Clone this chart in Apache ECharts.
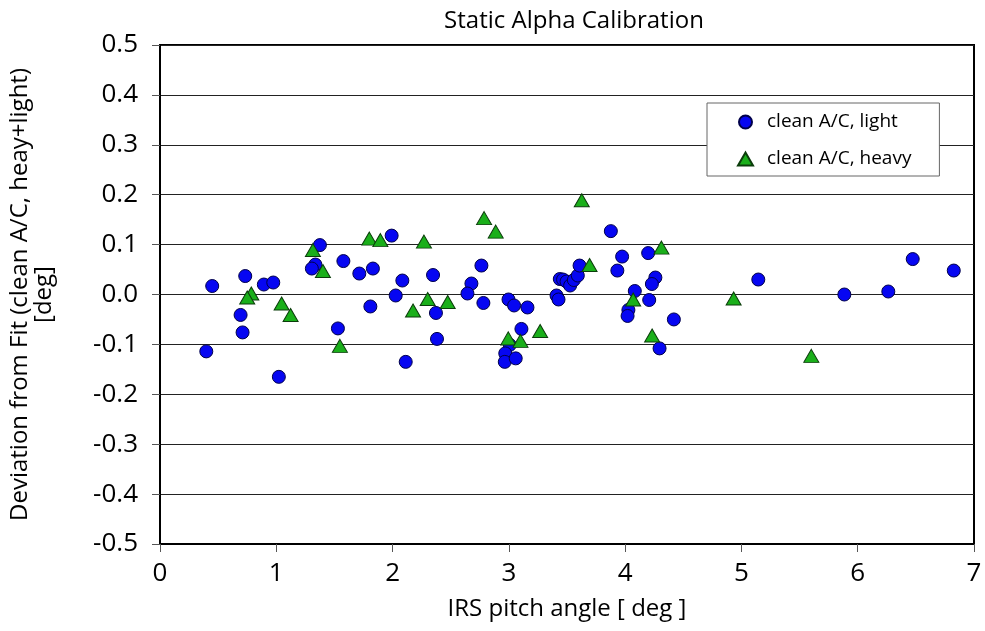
<!DOCTYPE html>
<html>
<head>
<meta charset="utf-8">
<title>Static Alpha Calibration</title>
<script src="https://cdn.jsdelivr.net/npm/echarts@6/dist/echarts.min.js"></script>
<style>
  html, body { margin: 0; padding: 0; background: #fff; }
  #chart { width: 985px; height: 631px; }
</style>
</head>
<body>
<div id="chart"></div>
<script>
// IRS pitch angle [deg] and deviation from fit [deg], light configuration
const lightPitch = [0.398, 0.449, 0.733, 0.693, 0.710, 0.893, 0.974, 1.022, 1.375, 1.336,
  1.306, 1.577, 1.714, 1.831, 1.809, 1.530, 1.992, 2.084, 2.027, 2.113,
  2.348, 2.373, 2.382, 2.764, 2.678, 2.644, 2.781, 2.997, 3.045, 3.160,
  3.108, 3.008, 2.969, 2.965, 3.059, 3.410, 3.427, 3.438, 3.466, 3.496,
  3.527, 3.559, 3.593, 3.608, 3.877, 3.933, 3.974, 4.083, 4.028, 4.021,
  4.198, 4.207, 4.260, 4.230, 4.296, 4.419, 5.145, 5.885, 6.263, 6.473, 6.826];
const lightDev = [-0.114, 0.017, 0.037, -0.041, -0.076, 0.020, 0.024, -0.165, 0.099, 0.060,
  0.052, 0.067, 0.042, 0.052, -0.024, -0.068, 0.118, 0.028, -0.002, -0.135,
  0.039, -0.037, -0.089, 0.058, 0.022, 0.002, -0.017, -0.010, -0.022, -0.026,
  -0.069, -0.101, -0.118, -0.135, -0.128, -0.002, -0.010, 0.031, 0.030, 0.026,
  0.018, 0.029, 0.038, 0.058, 0.127, 0.048, 0.076, 0.007, -0.031, -0.043,
  0.083, -0.011, 0.034, 0.021, -0.108, -0.050, 0.030, 0.000, 0.006, 0.071, 0.048];

// heavy configuration
const heavyPitch = [0.785, 0.750, 1.046, 1.123, 1.315, 1.401, 1.547, 1.800, 1.895, 2.176,
  2.270, 2.302, 2.474, 2.787, 2.887, 2.995, 3.100, 3.269, 3.627, 3.694,
  4.069, 4.232, 4.312, 4.933, 5.601];
const heavyDev = [0.002, -0.006, -0.018, -0.041, 0.089, 0.047, -0.103, 0.112, 0.109, -0.032,
  0.106, -0.009, -0.015, 0.153, 0.126, -0.088, -0.093, -0.073, 0.189, 0.059,
  -0.010, -0.082, 0.094, -0.008, -0.123];

const seriesNames = ['clean A/C, light', 'clean A/C, heavy'];
const xTicks = [0, 1, 2, 3, 4, 5, 6, 7];
const yTicks = [-0.5, -0.4, -0.3, -0.2, -0.1, 0.0, 0.1, 0.2, 0.3, 0.4, 0.5];

const pairs = (xs, ys) => xs.map((x, i) => [x, ys[i]]);
const FONT = 'Open Sans';

const chart = echarts.init(document.getElementById('chart'), null, { renderer: 'canvas' });

chart.setOption({
  animation: false,
  backgroundColor: '#fff',
  textStyle: { fontFamily: FONT, color: '#000' },
  title: {
    text: 'Static Alpha Calibration',
    left: 569, top: 4, textAlign: 'center',
    textStyle: { fontFamily: FONT, fontSize: 24, fontWeight: 'normal', color: '#000' }
  },
  grid: {
    left: 160, right: 11, top: 45, bottom: 87,
    containLabel: false, outerBoundsMode: 'none',
    show: true, borderColor: '#000', borderWidth: 2, backgroundColor: '#fff'
  },
  legend: {
    orient: 'vertical',
    left: 707, top: 103,
    padding: [8, 28, 6, 30],
    itemGap: 15,
    itemWidth: 15, itemHeight: 13,
    borderColor: '#666', borderWidth: 1, backgroundColor: '#fff',
    textStyle: { fontFamily: FONT, fontSize: 19, lineHeight: 22, color: '#000', padding: [0, 0, 0, 9] },
    data: seriesNames
  },
  xAxis: {
    type: 'value',
    min: xTicks[0], max: xTicks[xTicks.length - 1], interval: 1,
    name: 'IRS pitch angle [ deg ]',
    nameLocation: 'middle', nameGap: 53,
    nameTextStyle: { fontFamily: FONT, fontSize: 24, color: '#000' },
    axisLine: { show: true, onZero: false, lineStyle: { color: '#000', width: 2 } },
    axisTick: { show: true, length: 8, lineStyle: { color: '#555', width: 1 } },
    axisLabel: { margin: 17, fontFamily: FONT, fontSize: 26, color: '#000',
      formatter: v => String(v) },
    splitLine: { show: false }
  },
  yAxis: {
    type: 'value',
    min: yTicks[0], max: yTicks[yTicks.length - 1], interval: 0.1,
    name: 'Deviation from Fit (clean A/C, heay+light)\n[deg]',
    nameLocation: 'middle', nameGap: 104, nameRotate: 90,
    nameTextStyle: { fontFamily: FONT, fontSize: 24, lineHeight: 24, color: '#000', align: 'center' },
    axisLine: { show: true, onZero: false, lineStyle: { color: '#000', width: 2 } },
    axisTick: { show: true, length: 8, lineStyle: { color: '#555', width: 1 } },
    axisLabel: { margin: 22, fontFamily: FONT, fontSize: 26, color: '#000',
      formatter: v => v.toFixed(1) },
    splitLine: { show: true, lineStyle: { color: '#222', width: 1 } }
  },
  series: [
    {
      name: seriesNames[0],
      type: 'scatter',
      symbol: 'circle',
      symbolSize: 13,
      itemStyle: { color: '#0606f2', borderColor: '#00004a', borderWidth: 1, opacity: 1 },
      data: pairs(lightPitch, lightDev),
      z: 3
    },
    {
      name: seriesNames[1],
      type: 'scatter',
      symbol: 'triangle',
      symbolSize: [15, 13],
      itemStyle: { color: '#1aaf1a', borderColor: '#0b3d0b', borderWidth: 1, opacity: 1 },
      data: pairs(heavyPitch, heavyDev),
      z: 4
    }
  ]
});
</script>
</body>
</html>
